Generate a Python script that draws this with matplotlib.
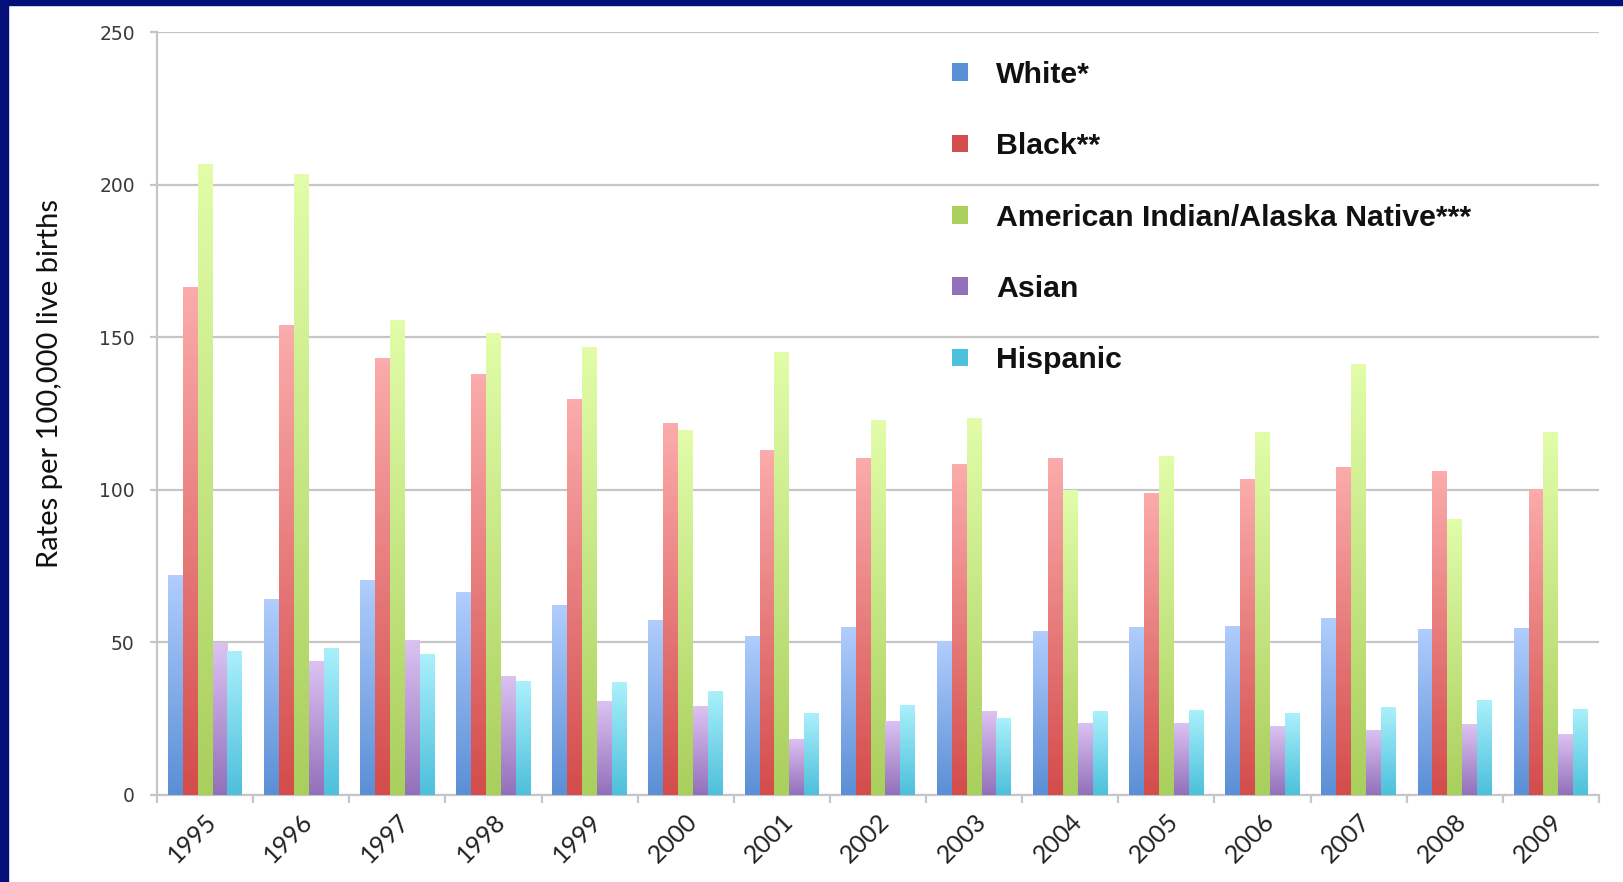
import numpy as np
import matplotlib
matplotlib.use('Agg')
import matplotlib.pyplot as plt
from matplotlib.patches import Rectangle, Patch
from matplotlib.colors import LinearSegmentedColormap
import matplotlib.transforms as mtransforms

# Data
years = ['1995', '1996', '1997', '1998', '1999', '2000', '2001', '2002',
         '2003', '2004', '2005', '2006', '2007', '2008', '2009']
series_names = ['White*', 'Black**', 'American Indian/Alaska Native***', 'Asian', 'Hispanic']
white = [72.1, 64.1, 70.5, 66.5, 62.1, 57.3, 52.2, 55.0, 50.3, 53.8, 55.2, 55.5, 57.9, 54.4, 54.6]
black = [166.6, 153.9, 143.2, 137.9, 129.8, 121.8, 113.2, 110.4, 108.5, 110.4, 99.0, 103.5, 107.5, 106.3, 100.3]
aian = [206.6, 203.4, 155.6, 151.4, 146.9, 119.7, 145.2, 122.8, 123.6, 99.8, 111.1, 119.0, 141.1, 90.3, 118.8]
asian = [49.8, 43.9, 50.8, 39.0, 30.8, 29.1, 18.4, 24.4, 27.4, 23.6, 23.6, 22.5, 21.4, 23.1, 20.1]
hispanic = [47.3, 48.3, 46.2, 37.2, 37.0, 34.2, 26.9, 29.5, 25.2, 27.4, 27.9, 27.0, 28.8, 31.2, 28.3]
yticks = [0, 50, 100, 150, 200, 250]

# (bottom colour, top colour) for the gradient bars
colors = [('#5b8fd6', '#b0cdfd'),
          ('#d44c4c', '#fbabab'),
          ('#a9cf5c', '#e2fca9'),
          ('#9371ba', '#dcc2f2'),
          ('#4dc0dc', '#aaf0fb')]

W, H = 1623, 882
fig = plt.figure(figsize=(W / 100, H / 100), dpi=100)
fig.patch.set_facecolor('white')

# slide frame: dark blue strips on top and left
navy = '#040f78'
fig.patches.append(Rectangle((0, 0), 7.5 / W, 1, transform=fig.transFigure, color=navy, zorder=0))
fig.patches.append(Rectangle((0, 1 - 5 / H), 1, 5 / H, transform=fig.transFigure, color=navy, zorder=0))

ax = fig.add_axes([157 / W, 1 - 795 / H, (1599 - 157) / W, (795 - 32) / H])

x = np.arange(len(years))
bw = 0.155
grid_col = '#c6c6c6'
all_series = [white, black, aian, asian, hispanic]

for i, (vals, (c0, c1)) in enumerate(zip(all_series, colors)):
    cmap = LinearSegmentedColormap.from_list('g%d' % i, [c0, c1])
    bars = ax.bar(x + (i - 2) * bw, vals, width=bw, color=c0, zorder=2, linewidth=0)
    grad = np.linspace(0, 1, 64).reshape(-1, 1)
    for b in bars:
        x0, y0 = b.get_x(), b.get_y()
        im = ax.imshow(grad, extent=[x0, x0 + b.get_width(), y0, y0 + b.get_height()],
                       origin='lower', aspect='auto', cmap=cmap, zorder=3, interpolation='bilinear')
        im.set_clip_path(b)

ax.set_xlim(-0.5, len(years) - 0.5)
ax.set_ylim(0, 250)

# axes styling
for s in ['top', 'right']:
    ax.spines[s].set_visible(False)
for s in ['left', 'bottom']:
    ax.spines[s].set_color(grid_col)
    ax.spines[s].set_linewidth(1.6)
ax.set_axisbelow(True)
ax.yaxis.grid(True, color=grid_col, linewidth=1.6)
ax.set_yticks(yticks)
ax.set_yticklabels([str(v) for v in yticks], fontsize=13.5, color='#3a3a3a', family='DejaVu Sans')
ax.tick_params(axis='y', length=5, width=1.6, color=grid_col, pad=11)

ax.set_xticks(np.arange(len(years) + 1) - 0.5)
ax.set_xticklabels([])
ax.tick_params(axis='x', which='major', length=6, width=1.6, color=grid_col)
ax.set_xticks(x, minor=True)
ax.set_xticklabels(years, minor=True, rotation=45, ha='right', va='center',
                   rotation_mode='anchor', fontsize=18, family='Lato', color='#222222')
ax.tick_params(axis='x', which='minor', length=0, pad=16)
offset = mtransforms.ScaledTranslation(8 / 100, 0, fig.dpi_scale_trans)
for lbl in ax.xaxis.get_minorticklabels():
    lbl.set_transform(lbl.get_transform() + offset)

fig.text(50 / W, 1 - 384 / H, 'Rates per 100,000 live births', rotation=90,
         ha='center', va='center', fontsize=21, family='Lato', color='#111111')

handles = [Patch(facecolor=c0, edgecolor='none') for c0, c1 in colors]
leg = ax.legend(handles, series_names, loc='upper left', bbox_to_anchor=(952 / W, 1 - 61 / H),
                bbox_transform=fig.transFigure, frameon=False,
                labelspacing=1.43, handlelength=0.53, handleheight=0.53, handletextpad=0.93,
                borderpad=0, borderaxespad=0,
                prop={'family': 'Liberation Sans', 'size': 21.8, 'weight': 'bold'})
for t in leg.get_texts():
    t.set_color('#111111')

fig.savefig('out.png', dpi=100, facecolor=fig.get_facecolor())
